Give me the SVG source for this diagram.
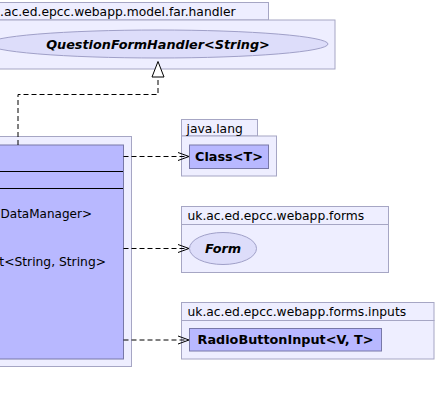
<svg xmlns="http://www.w3.org/2000/svg" width="437" height="405" viewBox="0 0 437 405">
<style>
.pkg{fill:#EEEEFF;stroke:#A6A6C4;stroke-width:1}
.cls{fill:#B8B8FF;stroke:#7878A8;stroke-width:1}
.ell{fill:#DDDDFA;stroke:#A0A0C8;stroke-width:1}
.t{font-family:"DejaVu Sans",sans-serif;font-size:12.3px;fill:#000}
.b{font-family:"DejaVu Sans",sans-serif;font-size:12.8px;font-weight:bold;fill:#000}
.bi{font-family:"DejaVu Sans",sans-serif;font-size:12.8px;font-weight:bold;font-style:italic;fill:#000}
.dep{fill:none;stroke:#000;stroke-width:1;stroke-dasharray:5,3}
.head{fill:none;stroke:#000;stroke-width:1}
</style>
<rect width="437" height="405" fill="#FFFFFF"/>
<g id="pkg-handler">
<rect class="pkg" x="-10" y="2.5" width="278.5" height="17.5"/>
<rect class="pkg" x="-10" y="20" width="345" height="49"/>
<text class="t" x="0" y="15.5">.ac.ed.epcc.webapp.model.far.handler</text>
</g>
<g id="QuestionFormHandler">
<ellipse class="ell" cx="158" cy="44" rx="170" ry="14"/>
<text class="bi" x="158" y="48.8" text-anchor="middle">QuestionFormHandler&lt;String&gt;</text>
</g>
<g id="pkg-main">
<rect class="pkg" x="-10" y="136.5" width="141.5" height="230"/>
</g>
<g id="main-class">
<rect class="cls" x="-10" y="145" width="133.5" height="214"/>
<line x1="-10" y1="171.5" x2="123" y2="171.5" stroke="#000" stroke-width="1"/>
<line x1="-10" y1="188.5" x2="123" y2="188.5" stroke="#000" stroke-width="1"/>
<text class="t" x="0.5" y="217.5" textLength="91.5" lengthAdjust="spacingAndGlyphs">DataManager&gt;</text>
<text class="t" x="106" y="265.5" text-anchor="end">t&lt;String, String&gt;</text>
</g>
<g id="pkg-java-lang">
<rect class="pkg" x="181.5" y="119.5" width="76" height="16.5"/>
<rect class="pkg" x="181.5" y="136" width="95" height="40"/>
<text class="t" x="186.5" y="132.5">java.lang</text>
</g>
<g id="Class">
<rect class="cls" x="189.5" y="145" width="79" height="23.5"/>
<text class="b" x="229" y="161.3" text-anchor="middle">Class&lt;T&gt;</text>
</g>
<g id="pkg-forms">
<rect class="pkg" x="181.5" y="206.5" width="207" height="18"/>
<rect class="pkg" x="181.5" y="224.5" width="207" height="48"/>
<text class="t" x="187.5" y="220">uk.ac.ed.epcc.webapp.forms</text>
</g>
<g id="Form">
<ellipse class="ell" cx="223" cy="248.5" rx="33.5" ry="16"/>
<text class="bi" x="223" y="253.2" text-anchor="middle">Form</text>
</g>
<g id="pkg-inputs">
<rect class="pkg" x="181.5" y="302.5" width="252.5" height="18"/>
<rect class="pkg" x="181.5" y="320.5" width="252.5" height="38.5"/>
<text class="t" x="187.5" y="316">uk.ac.ed.epcc.webapp.forms.inputs</text>
</g>
<g id="RadioButtonInput">
<rect class="cls" x="189.5" y="328.5" width="192" height="22.5"/>
<text class="b" x="285.5" y="344.3" text-anchor="middle">RadioButtonInput&lt;V, T&gt;</text>
</g>
<g id="connectors">
<path class="dep" d="M18,145 V94.5 H158 V77"/>
<polygon points="158,61.5 152,77 164,77" fill="#FFFFFF" stroke="#000" stroke-width="1"/>
<path class="dep" d="M123.5,156.5 H188"/>
<path class="head" d="M178,152.5 L189,156.5 L178,160.5"/>
<path class="dep" d="M123.5,248.5 H188"/>
<path class="head" d="M178,244.5 L189,248.5 L178,252.5"/>
<path class="dep" d="M123.5,340 H188"/>
<path class="head" d="M178,336 L189,340 L178,344"/>
</g>
</svg>
